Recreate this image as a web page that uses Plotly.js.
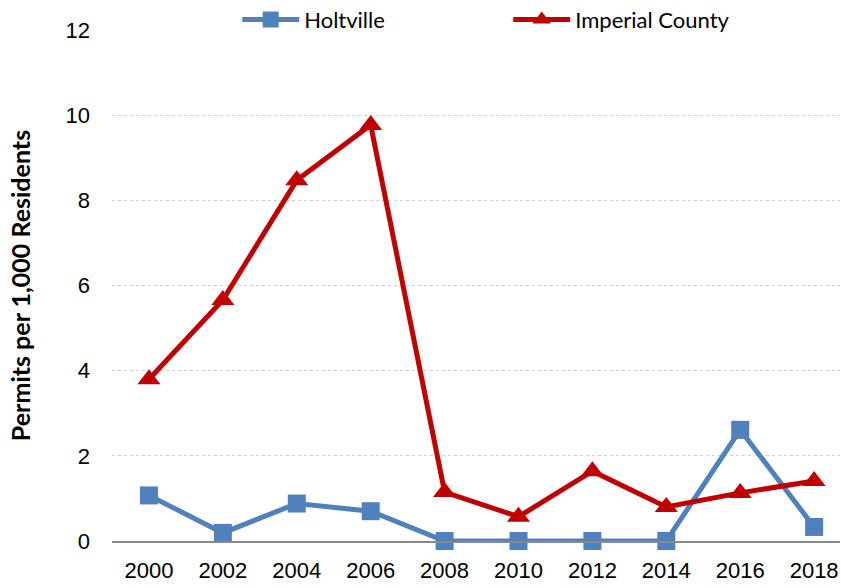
<!DOCTYPE html>
<html>
<head>
<meta charset="utf-8">
<script src="https://cdn.plot.ly/plotly-3.0.1.min.js"></script>
<style>html,body{margin:0;padding:0;background:#fff;}#chart{width:841px;height:588px;}</style>
</head>
<body>
<div id="chart"></div>
<script>
const years = ["2000","2002","2004","2006","2008","2010","2012","2014","2016","2018"];
const holtville = [1.07, 0.19, 0.88, 0.70, 0, 0, 0, 0, 2.61, 0.33];
const imperialCounty = [3.80, 5.66, 8.47, 9.77, 1.15, 0.57, 1.64, 0.80, 1.13, 1.41];
const yTicks = [0, 2, 4, 6, 8, 10, 12];

const traces = [
  {
    x: years, y: holtville, name: "Holtville", type: "scatter", mode: "lines+markers",
    line: {color: "#4f81bd", width: 5},
    marker: {symbol: "square", size: 18, color: "#4f81bd"},
    cliponaxis: false
  },
  {
    x: years, y: imperialCounty, name: "Imperial County", type: "scatter", mode: "lines+markers",
    line: {color: "#c00000", width: 5},
    marker: {symbol: "triangle-up", size: 20, color: "#c00000"},
    cliponaxis: false
  }
];

const layout = {
  width: 841, height: 588,
  margin: {l: 112, r: 1, t: 30, b: 47, autoexpand: false},
  paper_bgcolor: "#fff", plot_bgcolor: "#fff",
  showlegend: true,
  legend: {
    orientation: "h", x: 0.172, xanchor: "left", y: 1.02, yanchor: "middle",
    font: {family: "Lato, 'Open Sans', sans-serif", size: 22, color: "#000"},
    entrywidth: 199, entrywidthmode: "pixels", itemwidth: 57,
    bgcolor: "rgba(0,0,0,0)"
  },
  xaxis: {
    type: "category", range: [-0.5, 9.35],
    showline: true, linecolor: "#898989", linewidth: 2,
    showgrid: false, zeroline: false, ticks: "",
    tickfont: {family: "'Liberation Sans', Arial, sans-serif", size: 22, color: "#000"},
    ticklabelstandoff: 9
  },
  yaxis: {
    range: [0, 12], tickvals: yTicks, ticktext: yTicks.map(String),
    showline: false, zeroline: false, showgrid: true,
    gridcolor: "#d0d0d0", griddash: "dot", gridwidth: 1,
    tickfont: {family: "'Liberation Sans', Arial, sans-serif", size: 22, color: "#000"},
    ticks: "", ticklabelstandoff: 21,
    title: {text: "Permits per 1,000 Residents", font: {family: "Lato, 'Open Sans', sans-serif", size: 25, color: "#000", weight: "bold"}, standoff: 27}
  }
};

Plotly.newPlot("chart", traces, layout, {displayModeBar: false, staticPlot: true});
</script>
</body>
</html>
